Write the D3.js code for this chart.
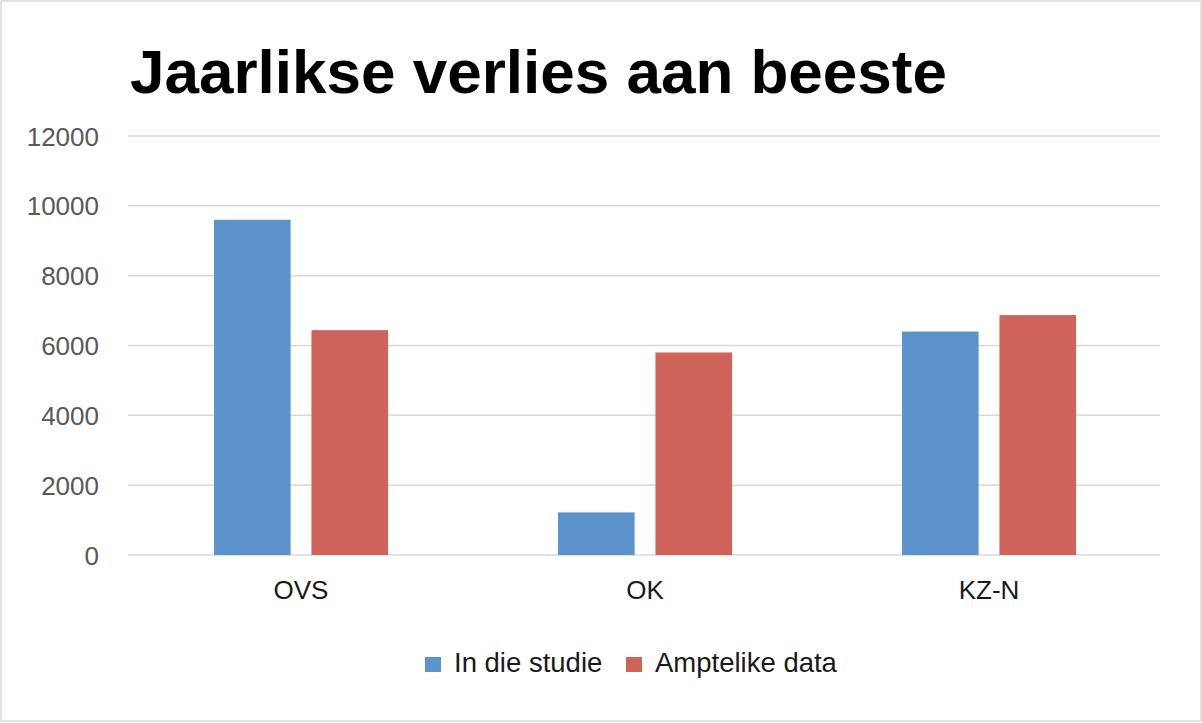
<!DOCTYPE html>
<html>
<head>
<meta charset="utf-8">
<script src="https://cdn.jsdelivr.net/npm/d3@7"></script>
<style>
  html, body { margin: 0; padding: 0; background: #fff; }
  svg { display: block; font-family: "Liberation Sans", Arial, sans-serif; }
</style>
</head>
<body>
<svg id="chart" width="1202" height="723"></svg>
<script>
const title = "Jaarlikse verlies aan beeste";
const categories = ["OVS", "OK", "KZ-N"];
const seriesNames = ["In die studie", "Amptelike data"];
const studyValues = [9600, 1220, 6400];
const officialValues = [6440, 5800, 6870];
const yTicks = [0, 2000, 4000, 6000, 8000, 10000, 12000];
const colors = ["#5b94ca", "#cf635a"];

const svg = d3.select("#chart");
const W = 1202, H = 723;

// outer border
svg.append("rect").attr("x", 1).attr("y", 1).attr("width", W - 2).attr("height", H - 3)
  .attr("fill", "#fff").attr("stroke", "#d9d9d9").attr("stroke-width", 1.5);

const plotL = 128, plotR = 1160, plotT = 136, plotB = 555;

const x = d3.scaleBand().domain(categories).range([plotL, plotR]).padding(0);
const bw = x.bandwidth();
const xs = d3.scaleBand().domain(seriesNames)
  .range([bw * 0.25, bw * 0.756]).paddingInner(0.214).paddingOuter(0);
const y = d3.scaleLinear().domain([0, 12000]).range([plotB, plotT]);

// gridlines
svg.append("g").selectAll("line").data(yTicks).join("line")
  .attr("x1", plotL).attr("x2", plotR)
  .attr("y1", d => y(d)).attr("y2", d => y(d))
  .attr("stroke", "#d9d9d9").attr("stroke-width", 1.5);

// y axis labels via d3 axis
const yAxis = d3.axisLeft(y).tickValues(yTicks).tickSize(0).tickPadding(0).tickFormat(d3.format("d"));
const yg = svg.append("g").attr("transform", `translate(99,0)`).call(yAxis);
yg.select(".domain").remove();
yg.selectAll("text").attr("font-size", 26).attr("fill", "#595959")
  .attr("font-family", "'Liberation Sans', Arial, sans-serif").attr("dy", "0.35em");

// bars
const data = categories.map((c, i) => ({ cat: c, vals: [studyValues[i], officialValues[i]] }));
const groups = svg.append("g").selectAll("g").data(data).join("g")
  .attr("transform", d => `translate(${x(d.cat)},0)`);
groups.selectAll("rect").data(d => d.vals.map((v, j) => ({ s: seriesNames[j], v, j }))).join("rect")
  .attr("x", d => xs(d.s)).attr("width", xs.bandwidth())
  .attr("y", d => y(d.v)).attr("height", d => y(0) - y(d.v))
  .attr("fill", d => colors[d.j]);

// x axis labels
const xAxis = d3.axisBottom(x).tickSize(0).tickPadding(0);
const xg = svg.append("g").attr("transform", `translate(1,${plotB})`).call(xAxis);
xg.select(".domain").remove();
xg.selectAll("text").attr("font-size", 26).attr("fill", "#1a1a1a")
  .attr("font-family", "'Liberation Sans', Arial, sans-serif")
  .attr("dy", null).attr("y", 44);

// title
svg.append("text").attr("x", 130).attr("y", 93).text(title)
  .attr("font-size", 62).attr("font-weight", "bold").attr("fill", "#000");

// legend
const legendItems = [{ name: seriesNames[0], x: 425 }, { name: seriesNames[1], x: 626 }];
const lg = svg.append("g").selectAll("g").data(legendItems).join("g")
  .attr("transform", d => `translate(${d.x},657)`);
lg.append("rect").attr("width", 16).attr("height", 15).attr("fill", (d, i) => colors[i]);
lg.append("text").attr("x", 29).attr("y", 14.5).text(d => d.name)
  .attr("font-size", 27.5).attr("fill", "#1a1a1a");
</script>
</body>
</html>
